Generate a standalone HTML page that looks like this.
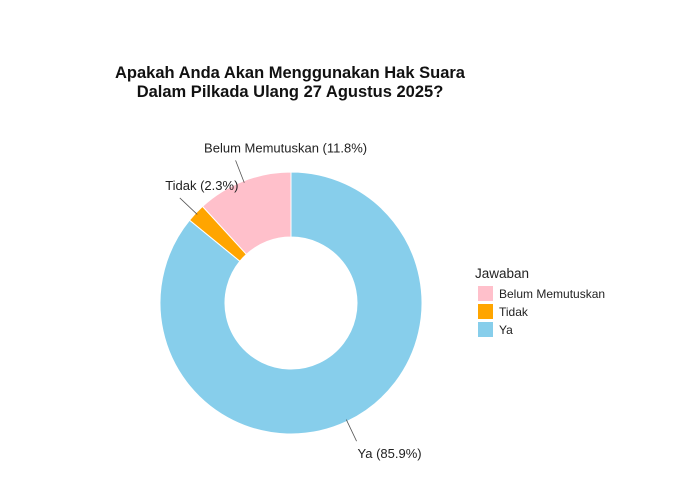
<!DOCTYPE html>
<html><head><meta charset="utf-8"><style>
body{margin:0;background:#fff;}
svg{display:block;font-family:"Liberation Sans",sans-serif;}
</style></head><body>
<svg id="c" width="700" height="500">
<rect width="700" height="500" fill="#fff"/>
<text x="290" y="78" text-anchor="middle" font-size="16.5" font-weight="bold" fill="#111">Apakah Anda Akan Menggunakan Hak Suara</text>
<text x="290" y="97" text-anchor="middle" font-size="16.5" font-weight="bold" fill="#111">Dalam Pilkada Ulang 27 Agustus 2025?</text>
<g id="slices"></g><g id="labels"></g>
<g>
<text x="475" y="278" font-size="13.5" fill="#222">Jawaban</text>
<g id="leg"></g>
</g>
</svg>
<script>
const categories=["Ya","Tidak","Belum Memutuskan"];
const values=[85.9,2.3,11.8];
const legendOrder=["Belum Memutuskan","Tidak","Ya"];
const colors={"Ya":"#87CEEB","Tidak":"#FFA500","Belum Memutuskan":"#FFC0CB"};
const NS="http://www.w3.org/2000/svg";
const cx=291,cy=303,R=131,r0=66;
function pt(a,r){return [cx+r*Math.sin(a),cy-r*Math.cos(a)];}
const total=values.reduce((s,v)=>s+v,0);
let acc=0;
const sg=document.getElementById('slices'),lg=document.getElementById('labels');
categories.forEach((c,i)=>{
  const a0=acc/total*2*Math.PI;acc+=values[i];const a1=acc/total*2*Math.PI;
  const large=(a1-a0)>Math.PI?1:0;
  const [x0,y0]=pt(a0,R),[x1,y1]=pt(a1,R),[x2,y2]=pt(a1,r0),[x3,y3]=pt(a0,r0);
  const p=document.createElementNS(NS,'path');
  p.setAttribute('d',`M${x0},${y0}A${R},${R} 0 ${large} 1 ${x1},${y1}L${x2},${y2}A${r0},${r0} 0 ${large} 0 ${x3},${y3}Z`);
  p.setAttribute('fill',colors[c]);p.setAttribute('stroke','#fff');p.setAttribute('stroke-width','1');
  
  
  sg.appendChild(p);
  const am=(a0+a1)/2;const [lx0,ly0]=pt(am,R-2),[lx1,ly1]=pt(am,R+22);
  const l=document.createElementNS(NS,'line');
  l.setAttribute('x1',lx0);l.setAttribute('y1',ly0);l.setAttribute('x2',lx1);l.setAttribute('y2',ly1);
  l.setAttribute('stroke','#555');l.setAttribute('stroke-width','0.8');
  
  
  lg.appendChild(l);
  const up=Math.cos(am)>0;
  const dx=c.length>10?50:(c.length>3?22:33);
  const t=document.createElementNS(NS,'text');
  t.setAttribute('x',lx1+dx);t.setAttribute('y',up?ly1-8:ly1+17);
  t.setAttribute('text-anchor','middle');t.setAttribute('font-size','13');t.setAttribute('fill','#222');
  t.textContent=c+' ('+values[i].toFixed(1)+'%)';
  
  
  lg.appendChild(t);
});
const leg=document.getElementById('leg');
legendOrder.forEach((c,i)=>{
  const y=286+i*18;
  const k=document.createElementNS(NS,'rect');
  k.setAttribute('x',478);k.setAttribute('y',y);k.setAttribute('width',15);k.setAttribute('height',15);k.setAttribute('fill',colors[c]);
  
  
  leg.appendChild(k);
  const t=document.createElementNS(NS,'text');
  t.setAttribute('x',499);t.setAttribute('y',y+12);t.setAttribute('font-size','12');t.setAttribute('fill','#222');
  t.textContent=c;
  
  
  leg.appendChild(t);
});
</script>
</body></html>
